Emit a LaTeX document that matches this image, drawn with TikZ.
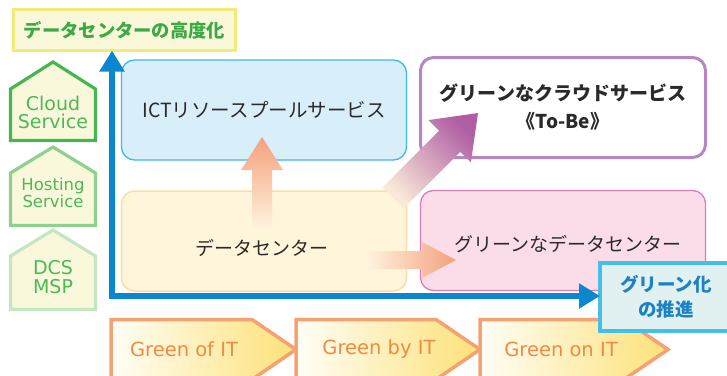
\documentclass[tikz,border=0pt]{standalone}
\usepackage{fontspec}
\newfontfamily\jp{Noto Sans CJK JP}
\newfontfamily\lat{DejaVu Sans}
\usetikzlibrary{arrows.meta}
\definecolor{titleborder}{HTML}{F1EB78}
\definecolor{titlefill}{HTML}{FAF8D8}
\definecolor{titletext}{HTML}{3AAA47}
\definecolor{houseA}{HTML}{48B553}
\definecolor{houseB}{HTML}{8FD08F}
\definecolor{houseC}{HTML}{C6E5C2}
\definecolor{housefill}{HTML}{FAF8DB}
\definecolor{housetext}{HTML}{4DB858}
\definecolor{ictfill}{HTML}{D8EEF9}
\definecolor{ictborder}{HTML}{3FB9E9}
\definecolor{purpleborder}{HTML}{B587C3}
\definecolor{dcfill}{HTML}{FEF5DA}
\definecolor{dcborder}{HTML}{FDDDA6}
\definecolor{pinkfill}{HTML}{FBDDEA}
\definecolor{pinkborder}{HTML}{DD7DB5}
\definecolor{axisblue}{HTML}{0A87CF}
\definecolor{gbborder}{HTML}{45BEE8}
\definecolor{gbfill}{HTML}{E1F1F1}
\definecolor{gbtext}{HTML}{1B82C6}
\definecolor{chevborder}{HTML}{F5A172}
\definecolor{chevtext}{HTML}{F08B42}
\definecolor{chevyellow}{HTML}{FDE178}
\definecolor{chevwhite}{HTML}{FFFEF6}
\definecolor{arorange}{HTML}{F4A07C}
\definecolor{arcream}{HTML}{FEF3DE}
\definecolor{arpurple}{HTML}{B05EA3}
\definecolor{arbeige}{HTML}{F9E9D8}
\definecolor{txt}{HTML}{2A2A2A}
\begin{document}
\begin{tikzpicture}[x=1pt,y=-1pt,
  box/.style={rounded corners=13pt, inner sep=0pt, outer sep=0pt,
    minimum width=285pt, minimum height=100pt, text=txt,
    font=\jp\fontsize{19}{23}\selectfont, align=center},
  house/.style={line width=3.2pt, fill=housefill, line join=miter},
  housetxt/.style={text=housetext, align=center, inner sep=0pt},
  chev/.style={line width=3.5pt, draw=chevborder, left color=chevwhite, right color=chevyellow, line join=miter},
  chevtxt/.style={text=chevtext, font=\lat\fontsize{19.5}{22}\selectfont, inner sep=0pt},
  axis/.style={line width=5.5pt, draw=axisblue, line join=miter}
]
\useasboundingbox (0,0) rectangle (727,375);
\clip (0,0) rectangle (727,375);

% title box
\node[draw=titleborder, fill=titlefill, line width=3pt, inner sep=0pt, outer sep=0pt,
  minimum width=222pt, minimum height=41pt, text=titletext,
  font=\jp\bfseries\fontsize{18.3}{22}\selectfont] (title) at (124.5,30) {データセンターの高度化};

% houses
\draw[house, draw=houseA] (10.5,140.5) -- (10.5,89) -- (53,62) -- (95.5,89) -- (95.5,140.5) -- cycle;
\draw[house, draw=houseB] (10.5,225.5) -- (10.5,173) -- (53,147) -- (95.5,173) -- (95.5,225.5) -- cycle;
\draw[house, draw=houseC] (10.5,309.5) -- (10.5,256) -- (53,230) -- (95.5,256) -- (95.5,309.5) -- cycle;
\node[housetxt, font=\lat\fontsize{19}{18}\selectfont] (cloud) at (53,112) {Cloud\\Service};
\node[housetxt, font=\lat\fontsize{16.5}{17.5}\selectfont] (hosting) at (53,193) {Hosting\\Service};
\node[housetxt, font=\lat\fontsize{19}{18.5}\selectfont] (dcs) at (53,277) {DCS\\MSP};

% boxes
\node[box, draw=ictborder, fill=ictfill, line width=1.3pt, font=\jp\fontsize{19.5}{23}\selectfont] (ict) at (264,110) {ICTリソースプールサービス};
\node[box, draw=dcborder, fill=dcfill, line width=1.5pt] (dc) at (264,241) {};
\node[text=txt, font=\jp\fontsize{19}{23}\selectfont] (dctext) at (262,248) {データセンター};
\node[box, draw=pinkborder, fill=pinkfill, line width=1.3pt] (pink) at (563,240.5) {};
\node[text=txt, font=\jp\fontsize{19}{23}\selectfont] (pinktext) at (568,244) {グリーンなデータセンター};
\node[box, draw=purpleborder, fill=white, line width=3pt, font=\jp\bfseries\fontsize{19}{28}\selectfont] (cloudsvc) at (563,107.5) {グリーンなクラウドサービス\\《To-Be》};

% gradient arrows
\shade[top color=arorange, bottom color=arcream]
  (252,228) -- (252,170) -- (241,170) -- (262,137) -- (283,170) -- (272,170) -- (272,228) -- cycle;
\shade[left color=arcream, right color=arorange]
  (368,251) -- (422,251) -- (422,242) -- (456,260) -- (422,278) -- (422,269) -- (368,269) -- cycle;
\shade[top color=arpurple, bottom color=arbeige, shading angle=-45]
  (382.5,187.3) -- (439.1,130.7) -- (428.5,120.1) -- (478,113) -- (470.9,162.5) -- (460.3,151.9) -- (403.7,208.5) -- cycle;

% chevrons
\draw[chev] (111,319.5) -- (252,319.5) -- (296,349.5) -- (252,379.5) -- (111,379.5) -- cycle;
\draw[chev] (296,319.5) -- (436,319.5) -- (480,349.5) -- (436,379.5) -- (296,379.5) -- cycle;
\draw[chev] (480,319.5) -- (624,319.5) -- (668,349.5) -- (624,379.5) -- (480,379.5) -- cycle;
\node[chevtxt] (g1) at (184,349) {Green of IT};
\node[chevtxt] (g2) at (379,349) {Green by IT};
\node[chevtxt] (g3) at (561,349) {Green on IT};

% green-promotion box
\node[draw=gbborder, fill=gbfill, line width=4pt, inner sep=0pt, outer sep=0pt,
  minimum width=132pt, minimum height=68pt, text=gbtext, align=center,
  font=\jp\bfseries\fontsize{18.5}{25}\selectfont] (gb) at (666,297) {グリーン化\\の推進};

% axes
\coordinate (org) at (112,296);
\draw[axis, {Triangle[width=24pt,length=21pt]}-{Triangle[width=24pt,length=21pt]}]
  (org |- title.south) -- (org) -- (org -| gb.west);
\end{tikzpicture}
\end{document}
